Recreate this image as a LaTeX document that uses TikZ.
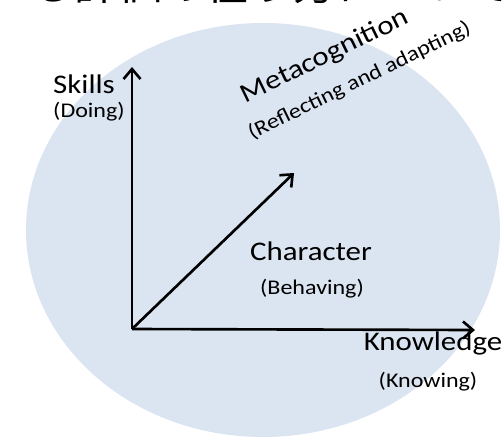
\documentclass[tikz,border=0pt]{standalone}
\usepackage{fontspec}
\setmainfont{Carlito}[FakeStretch=1.15]
\newfontfamily\jpfont{Noto Sans CJK JP}[FakeStretch=1.15]
\usetikzlibrary{arrows.meta}
\definecolor{bubble}{RGB}{219,228,241}

\begin{document}
\begin{tikzpicture}[x=0.02cm,y=-0.02cm,
  axis/.style={line width=1.5pt,-{Straight Barb[length=2mm,width=3.4mm]}},
  main/.style={anchor=base,inner sep=0pt,font=\fontsize{15.3}{18}\selectfont},
  sub/.style={anchor=base,inner sep=0pt,font=\fontsize{11.9}{14}\selectfont}]
  \clip (0,0) rectangle (502,436);
  \fill[bubble] (263,230) ellipse (237 and 207);
  % cut-off heading
  \node[anchor=base west,inner sep=0pt,font=\jpfont\fontsize{21.7}{26}\selectfont] (title) at (30,1) {る評価の在り方について};
  % axes
  \coordinate (O) at (132,329);
  \coordinate (S) at (132,67);
  \coordinate (K) at (475,330);
  \coordinate (M) at (294,173);
  \draw[axis] (O) -- (S);
  \draw[axis] (O) -- (K);
  \draw[axis] (O) -- (M);
  % labels
  \node[main] (skills) at (84,93) {Skills};
  \node[sub] (doing) at (89,117) {(Doing)};
  \node[main] (charac) at (311,260) {Character};
  \node[sub] (behav) at (312,294) {(Behaving)};
  \node[main] (knowl) at (433,350) {Knowledge};
  \node[sub] (knowing) at (428,387) {(Knowing)};
  \node[main,rotate=26] (meta) at (328,63) {Metacognition};
  \node[sub,rotate=26] (reflect) at (362,86) {(Reflecting and adapting)};
\end{tikzpicture}
\end{document}
